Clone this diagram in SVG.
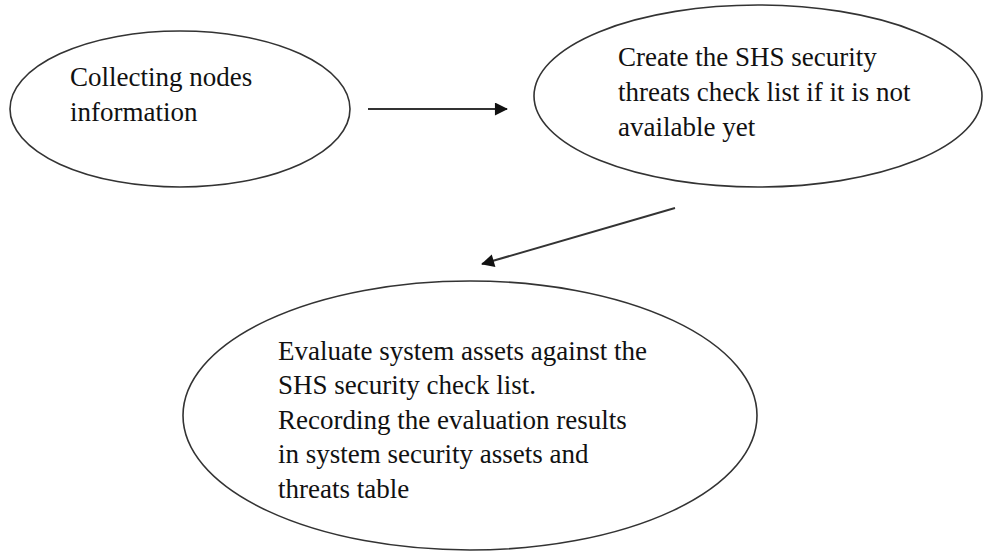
<svg xmlns="http://www.w3.org/2000/svg" width="988" height="552" viewBox="0 0 988 552">
  <style>
    .node ellipse { fill: #ffffff; stroke: #333333; stroke-width: 1.6; }
    .node text { font-family: "Liberation Serif", "Times New Roman", serif; font-size: 27px; fill: #111111; }
    .edge { stroke: #333333; stroke-width: 2; fill: none; marker-end: url(#arrowhead); }
  </style>
  <defs>
    <marker id="arrowhead" viewBox="0 0 14 14" refX="13" refY="7" markerWidth="14" markerHeight="13" markerUnits="userSpaceOnUse" orient="auto">
      <path d="M0,0 L14,7 L0,14 z" fill="#111111"/>
    </marker>
  </defs>
  <rect width="988" height="552" fill="#ffffff"/>

  <!-- Step 1: gather information -->
  <g id="collect-nodes" class="node">
    <ellipse cx="180" cy="109" rx="170" ry="78"/>
    <text x="70" y="86">Collecting nodes</text>
    <text x="70" y="121">information</text>
  </g>

  <!-- Step 2: build the threats check list -->
  <g id="create-checklist" class="node">
    <ellipse cx="758" cy="96" rx="224" ry="91"/>
    <text x="618" y="66">Create the SHS security</text>
    <text x="618" y="101">threats check list if it is not</text>
    <text x="618" y="136">available yet</text>
  </g>

  <!-- Step 3: evaluate and record -->
  <g id="evaluate-assets" class="node">
    <ellipse cx="470" cy="415.5" rx="287" ry="134.5"/>
    <text x="278" y="360">Evaluate system assets against the</text>
    <text x="278" y="394">SHS security check list.</text>
    <text x="278" y="429">Recording the evaluation results</text>
    <text x="278" y="463">in system security assets and</text>
    <text x="278" y="498">threats table</text>
  </g>

  <!-- Connectors -->
  <g id="connectors">
    <line class="edge" x1="368" y1="109" x2="507" y2="109"/>
    <line class="edge" x1="675" y1="208" x2="482" y2="264"/>
  </g>
</svg>
